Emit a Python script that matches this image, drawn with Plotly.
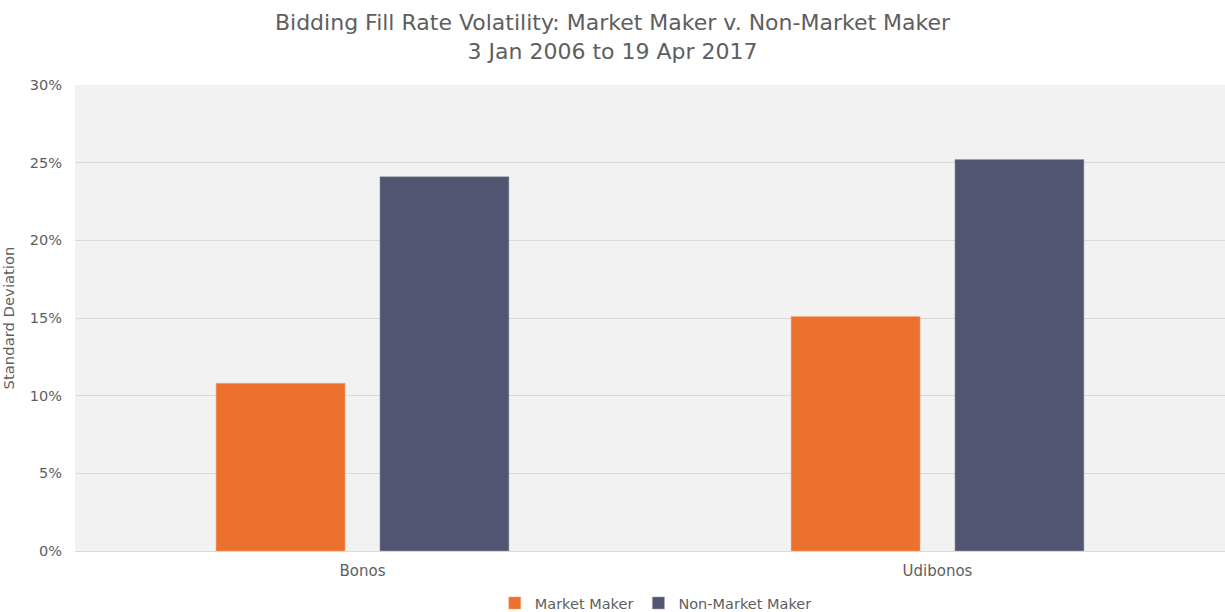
import plotly.graph_objects as go

categories = ["Bonos", "Udibonos"]
market_maker = [0.108, 0.151]
non_market_maker = [0.241, 0.252]

grey = "#5E5E5E"
font = "DejaVu Sans, Noto Sans, sans-serif"

fig = go.Figure()
fig.add_trace(go.Bar(x=categories, y=market_maker, name="Market Maker",
                     marker=dict(color="#EC712E", line=dict(color="#F4A97E", width=0.5))))
fig.add_trace(go.Bar(x=categories, y=non_market_maker, name="Non-Market Maker",
                     marker=dict(color="#515572", line=dict(color="#9A9DB2", width=0.5))))

# plot area spans y = 85..551 px
fig.update_layout(
    width=1225, height=612,
    paper_bgcolor="white", plot_bgcolor="#F2F2F2",
    font=dict(family=font, color=grey, size=13),
    title=dict(text="Bidding Fill Rate Volatility: Market Maker v. Non-Market Maker<br>3 Jan 2006 to 19 Apr 2017",
               x=0.5, xanchor="center", y=1 - 30 / 612, yanchor="middle",
               font=dict(size=22, color=grey)),
    margin=dict(l=75, r=0, t=85, b=61),
    barmode="group", bargap=0.43, bargroupgap=0.213,
    showlegend=True,
    legend=dict(orientation="h", x=0.505, xanchor="center", yref="container",
                y=1 - 603 / 612, yanchor="middle",
                font=dict(size=14.5, color=grey), itemwidth=30,
                traceorder="normal"),
)
fig.update_yaxes(range=[0, 0.30], dtick=0.05, tickformat=".0%", automargin=False,
                 gridcolor="#D9D9D9", gridwidth=1, zeroline=False,
                 showline=False, ticks="", ticklabelstandoff=12,
                 tickfont=dict(size=14.5),
                 title=dict(text="Standard Deviation", font=dict(size=14.8, color=grey), standoff=12))
fig.update_xaxes(showline=True, linecolor="#D9D9D9", linewidth=1, ticks="", automargin=False,
                 ticklabelstandoff=6, tickfont=dict(size=15))

fig.write_html("out.html", config={"displayModeBar": False},
               post_script="document.body.style.margin='0';")
